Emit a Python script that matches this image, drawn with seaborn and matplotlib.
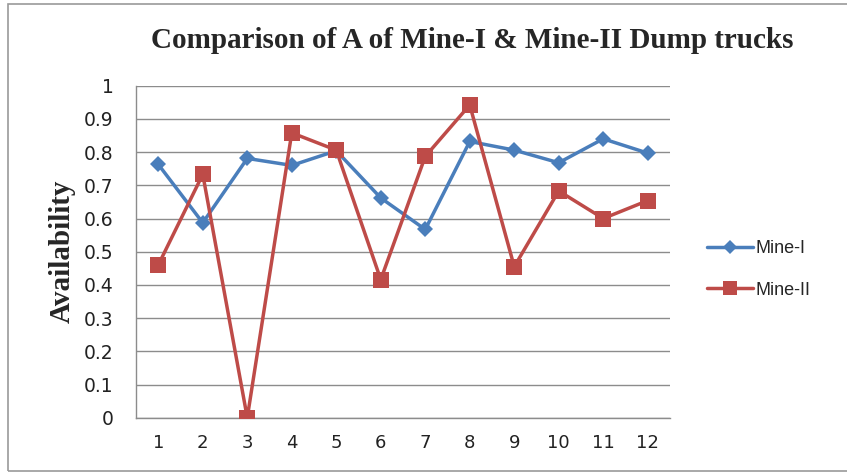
import matplotlib
matplotlib.use("Agg")
import matplotlib.pyplot as plt
import seaborn as sns
import pandas as pd
from matplotlib.patches import Rectangle
from matplotlib.lines import Line2D

# Dump truck availability by truck number
trucks = list(range(1, 13))
mine_1 = [0.763, 0.587, 0.781, 0.760, 0.804, 0.662, 0.567, 0.832, 0.806, 0.768, 0.840, 0.797]
mine_2 = [0.460, 0.733, 0.000, 0.858, 0.806, 0.416, 0.787, 0.942, 0.455, 0.683, 0.600, 0.654]
series_names = ["Mine-I", "Mine-II"]
y_ticks = [0, 0.1, 0.2, 0.3, 0.4, 0.5, 0.6, 0.7, 0.8, 0.9, 1]
y_tick_labels = ["0", "0.1", "0.2", "0.3", "0.4", "0.5", "0.6", "0.7", "0.8", "0.9", "1"]

df = pd.DataFrame({
    "Truck": trucks * 2,
    "Availability": mine_1 + mine_2,
    "Mine": [series_names[0]] * len(trucks) + [series_names[1]] * len(trucks),
})

sns.set_style("white")
plt.rcParams["font.family"] = ["DejaVu Sans"]

blue = "#4A7EBB"
red = "#BE4B48"
palette = {series_names[0]: blue, series_names[1]: red}

fig = plt.figure(figsize=(8.47, 4.73), dpi=100)
ax = fig.add_axes([0.1606, 0.1169, 0.6304, 0.7019])

for name, marker, ms in [(series_names[0], "D", 8), (series_names[1], "s", 11)]:
    sub = df[df["Mine"] == name]
    sns.lineplot(data=sub, x="Truck", y="Availability", color=palette[name],
                 marker=marker, markersize=ms, markeredgewidth=0, linewidth=2.5,
                 ax=ax, legend=False, zorder=3 if name == series_names[0] else 4)

ax.set_xlim(0.5, 12.5)
ax.set_ylim(0, 1)
ax.set_yticks(y_ticks)
ax.set_yticklabels(y_tick_labels)
ax.set_xticks(trucks)
ax.set_xticklabels([str(t) for t in trucks])
ax.yaxis.grid(True, color="#8C8C8C", linewidth=1.0)
ax.set_axisbelow(True)
for side in ["top", "right"]:
    ax.spines[side].set_visible(False)
for side in ["left", "bottom"]:
    ax.spines[side].set_color("#8C8C8C")
    ax.spines[side].set_linewidth(1.0)
ax.tick_params(axis="both", length=0, colors="#222222")
ax.tick_params(axis="y", pad=16, labelsize=13.5)
ax.tick_params(axis="x", pad=12, labelsize=13)

ax.set_xlabel("")
ax.set_ylabel("Availability", fontfamily="Liberation Serif", fontweight="bold",
              fontsize=21, labelpad=6)

fig.text(0.557, 0.915, "Comparison of A of Mine-I & Mine-II Dump trucks",
         ha="center", va="center", fontfamily="Liberation Serif",
         fontweight="bold", fontsize=21)

handles = [
    Line2D([], [], color=blue, marker="D", markersize=7.5, linewidth=2.5, markeredgewidth=0),
    Line2D([], [], color=red, marker="s", markersize=10, linewidth=2.5, markeredgewidth=0),
]
leg = fig.legend(handles, series_names, loc="center left", bbox_to_anchor=(0.815, 0.43),
                 frameon=False, handlelength=2.6, handletextpad=0.1,
                 labelspacing=1.35, prop={"family": "Liberation Sans", "size": 13})

# Chart frame
fig.patches.append(Rectangle((0.0095, 0.004), 1.2, 0.988, transform=fig.transFigure,
                             fill=False, edgecolor="#9A9A9A", linewidth=1.2))

fig.savefig("out.png", dpi=100)
